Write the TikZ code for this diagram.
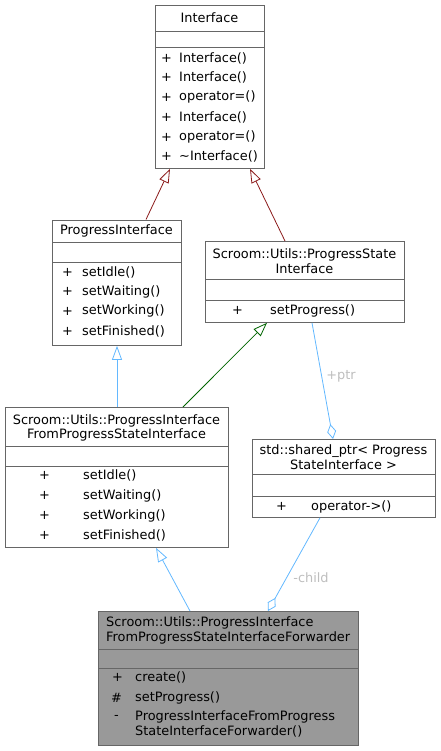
\documentclass[tikz,border=0pt]{standalone}
\usepackage{fontspec}
\setmainfont{DejaVu Sans}
\usetikzlibrary{arrows.meta}
\definecolor{boxline}{HTML}{666666}
\definecolor{privred}{HTML}{8B1A1A}
\definecolor{protgreen}{HTML}{006400}
\definecolor{pubblue}{HTML}{63B8FF}
\definecolor{lblgray}{HTML}{BEBEBE}
\definecolor{fwdfill}{HTML}{999999}
\begin{document}
\begin{tikzpicture}[x=1pt,y=-1pt,
  font=\fontsize{12.9}{15}\selectfont,
  classbox/.style={draw=boxline, line width=0.8pt, inner sep=0pt, anchor=north west},
  sepline/.style={draw=boxline, line width=0.8pt},
  txt/.style={inner sep=0pt, anchor=west},
  ctxt/.style={inner sep=0pt, anchor=center},
  inherit/.style={line width=0.8pt, -{Triangle[open, length=14pt, width=10pt]}},
  usage/.style={line width=0.8pt, draw=pubblue, -{Diamond[open, length=15pt, width=9pt]}},
  elabel/.style={text=lblgray, inner sep=0pt}]
\useasboundingbox (0,0) rectangle (440,751);

% Interface
\node[classbox, minimum width=109pt, minimum height=163pt] (iface) at (155,5) {};
\draw[sepline] (155,31.5) -- (264,31.5);
\draw[sepline] (155,47) -- (264,47);
\node[ctxt] (ifacet) at (209.5,17.5) {Interface};
\foreach \yy/\tt [count=\i] in {58/Interface(), 77.5/Interface(), 97/operator=(), 117/Interface(), 137/operator=(), 156/\textasciitilde Interface()} {
  \node[txt] (ifp\i) at (161,\yy) {+};
  \node[txt] (ifm\i) at (179,\yy) {\tt};
}

% ProgressInterface
\node[classbox, minimum width=129pt, minimum height=125.5pt] (pi) at (52,219.5) {};
\draw[sepline] (52,242) -- (181,242);
\draw[sepline] (52,262) -- (181,262);
\node[ctxt] (pit) at (116.5,231) {ProgressInterface};
\foreach \yy/\tt [count=\i] in {272/setIdle(), 291.5/setWaiting(), 311/setWorking(), 331/setFinished()} {
  \node[txt] (pip\i) at (62,\yy) {+};
  \node[txt] (pim\i) at (82,\yy) {\tt};
}

% ProgressStateInterface
\node[classbox, minimum width=199pt, minimum height=81pt] (psi) at (205,241) {};
\draw[sepline] (205,279) -- (404,279);
\draw[sepline] (205,300) -- (404,300);
\node[ctxt] (psit1) at (304.5,254.5) {Scroom::Utils::ProgressState};
\node[ctxt] (psit2) at (304.5,268.5) {Interface};
\node[txt] (psip1) at (232,310.5) {+};
\node[txt] (psim1) at (270,310.5) {setProgress()};

% ProgressInterfaceFromProgressStateInterface
\node[classbox, minimum width=223pt, minimum height=140pt] (pif) at (5,407) {};
\draw[sepline] (5,446) -- (228,446);
\draw[sepline] (5,466) -- (228,466);
\node[ctxt] (pift1) at (116.5,420.5) {Scroom::Utils::ProgressInterface};
\node[ctxt] (pift2) at (116.5,434.5) {FromProgressStateInterface};
\foreach \yy/\tt [count=\i] in {475.5/setIdle(), 495.5/setWaiting(), 515.5/setWorking(), 535.5/setFinished()} {
  \node[txt] (pifp\i) at (39,\yy) {+};
  \node[txt] (pifm\i) at (83,\yy) {\tt};
}

% shared_ptr
\node[classbox, minimum width=183pt, minimum height=78pt] (sp) at (252,439) {};
\draw[sepline] (252,474) -- (435,474);
\draw[sepline] (252,496) -- (435,496);
\node[ctxt] (spt1) at (343.5,451) {std::shared\_ptr< Progress};
\node[ctxt] (spt2) at (343.5,464.5) {StateInterface >};
\node[txt] (spp1) at (276,506.5) {+};
\node[txt] (spm1) at (311,506.5) {operator->()};

% Forwarder
\node[classbox, fill=fwdfill, minimum width=260pt, minimum height=134pt] (fwd) at (98,611) {};
\draw[sepline] (98,649) -- (358,649);
\draw[sepline] (98,668) -- (358,668);
\node[txt] (fwdt1) at (106,623) {Scroom::Utils::ProgressInterface};
\node[txt] (fwdt2) at (106,637.5) {FromProgressStateInterfaceForwarder};
\node[txt] (fwdp1) at (112,677.5) {+};
\node[txt] (fwdm1) at (135,677.5) {create()};
\node[txt] (fwdp2) at (111,697.5) {\#};
\node[txt] (fwdm2) at (135,697.5) {setProgress()};
\node[txt] (fwdp3) at (114,717) {-};
\node[txt] (fwdm3) at (135,717) {ProgressInterfaceFromProgress};
\node[txt] (fwdm4) at (135,731.5) {StateInterfaceForwarder()};

% Edges
\draw[inherit, draw=privred] ([xshift=94pt]pi.north west) -- ([xshift=15pt]iface.south west);
\draw[inherit, draw=privred] ([xshift=80pt]psi.north west) -- ([xshift=95pt]iface.south west);
\draw[inherit, draw=protgreen] ([xshift=178pt]pif.north west) -- ([xshift=62pt]psi.south west);
\draw[inherit, draw=pubblue] ([xshift=112pt]pif.north west) -- ([xshift=65pt]pi.south west);
\draw[inherit, draw=pubblue] ([xshift=92pt]fwd.north west) -- ([xshift=151pt]pif.south west);
\draw[usage] ([xshift=107pt]psi.south west) -- ([xshift=81pt]sp.north west);
\node[elabel] (ptrlbl) at (341,376) {+ptr};
\draw[usage] ([xshift=68pt]sp.south west) -- ([xshift=170pt]fwd.north west);
\node[elabel] (childlbl) at (311,578) {-child};
\end{tikzpicture}
\end{document}
